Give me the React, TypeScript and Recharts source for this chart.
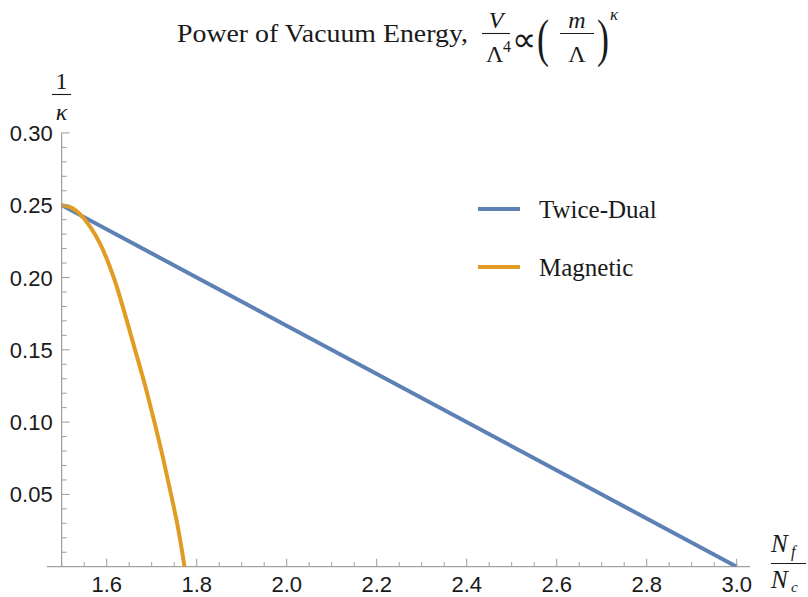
import React from 'react';
import { LineChart, Line, XAxis, YAxis, ReferenceLine, Legend } from 'recharts';

// ---- data ----
const twiceDualX = [1.5, 3.0];
const twiceDualY = [0.25, 0.0];

const magneticX = [1.5, 1.52, 1.533, 1.563, 1.585, 1.604, 1.621, 1.636, 1.663, 1.6856, 1.706, 1.7253, 1.743, 1.7596, 1.773];
const magneticY = [0.25, 0.2485, 0.246, 0.2351, 0.2236, 0.2098, 0.195, 0.1795, 0.15, 0.125, 0.1, 0.075, 0.05, 0.025, 0.0];

const xMajorTicks = [1.6, 1.8, 2.0, 2.2, 2.4, 2.6, 2.8, 3.0];
const xMinorTicks = [1.5, 1.55, 1.65, 1.7, 1.75, 1.85, 1.9, 1.95, 2.05, 2.1, 2.15, 2.25, 2.3, 2.35, 2.45, 2.5, 2.55, 2.65, 2.7, 2.75, 2.85, 2.9, 2.95];
const yMajorTicks = [0.05, 0.1, 0.15, 0.2, 0.25, 0.3];
const yMinorTicks = [0.01, 0.02, 0.03, 0.04, 0.06, 0.07, 0.08, 0.09, 0.11, 0.12, 0.13, 0.14, 0.16, 0.17, 0.18, 0.19, 0.21, 0.22, 0.23, 0.24, 0.26, 0.27, 0.28, 0.29];

const seriesNames = ['Twice-Dual', 'Magnetic'];
const seriesColors = ['#5e81b5', '#e19c24'];

const twiceDualData = twiceDualX.map((x, i) => ({ x, y: twiceDualY[i] }));
const magneticData = magneticX.map((x, i) => ({ x, y: magneticY[i] }));

const allXTicks = [...xMinorTicks, ...xMajorTicks].sort((a, b) => a - b);
const allYTicks = [...yMinorTicks, ...yMajorTicks].sort((a, b) => a - b);

const isMajor = (v: number, list: number[]) => list.some((m) => Math.abs(m - v) < 1e-9);

const AXIS = '#8c8c8c';
const TICK = '#9c9c9c';
const LABEL_FONT = 'Liberation Sans';
const SERIF = 'Liberation Serif';

const XTick = (props: any) => {
  const { x, y, payload } = props;
  const major = isMajor(payload.value, xMajorTicks);
  return (
    <g>
      <line x1={x} x2={x} y1={y} y2={y - (major ? 8 : 4.5)} stroke={TICK} strokeWidth={1} />
      {major && (
        <text x={x} y={y + 25.5} textAnchor="middle" fontSize={22} fontFamily={LABEL_FONT} fill="#1a1a1a">
          {payload.value.toFixed(1)}
        </text>
      )}
    </g>
  );
};

const YTick = (props: any) => {
  const { x, y, payload } = props;
  const major = isMajor(payload.value, yMajorTicks);
  return (
    <g>
      <line x1={x} x2={x + (major ? 8 : 5)} y1={y} y2={y} stroke={TICK} strokeWidth={1} />
      {major && (
        <text x={x - 9} y={y + 8} textAnchor="end" fontSize={22} fontFamily={LABEL_FONT} fill="#1a1a1a">
          {payload.value.toFixed(2)}
        </text>
      )}
    </g>
  );
};

const LegendContent = () => (
  <svg width={240} height={110} style={{ overflow: 'visible' }}>
    {seriesNames.map((name, i) => (
      <g key={name} transform={`translate(0, ${i * 58})`}>
        <line x1={8} x2={50} y1={19} y2={19} stroke={seriesColors[i]} strokeWidth={4} />
        <text x={69} y={28} fontSize={25} fontFamily={SERIF} fill="#1a1a1a">
          {name}
        </text>
      </g>
    ))}
  </svg>
);

export default function App() {
  return (
    <div style={{ position: 'absolute', left: 0, top: 0, width: 808, height: 597, background: '#fff' }}>
      <LineChart
        width={808}
        height={597}
        margin={{ top: 132.9, right: 57.8, bottom: 0.3, left: 1.7 }}
      >
        <XAxis
          type="number"
          dataKey="x"
          domain={[1.5, 3.03]}
          allowDataOverflow
          ticks={allXTicks}
          interval={0}
          height={30}
          tickSize={0}
          tickMargin={0}
          axisLine={false}
          tickLine={false}
          tick={<XTick />}
        />
        <YAxis
          type="number"
          dataKey="y"
          domain={[0, 0.3]}
          allowDataOverflow
          ticks={allYTicks}
          interval={0}
          width={60}
          tickSize={0}
          tickMargin={0}
          axisLine={{ stroke: AXIS, strokeWidth: 1 }}
          tickLine={false}
          tick={<YTick />}
        />
        <ReferenceLine
          segment={[{ x: 1.467, y: 0 }, { x: 3.03, y: 0 }]}
          stroke={AXIS}
          strokeWidth={1}
          ifOverflow="visible"
        />
        <Line
          data={twiceDualData}
          dataKey="y"
          name={seriesNames[0]}
          type="linear"
          stroke={seriesColors[0]}
          strokeWidth={4}
          dot={false}
          isAnimationActive={false}
        />
        <Line
          data={magneticData}
          dataKey="y"
          name={seriesNames[1]}
          type="monotone"
          stroke={seriesColors[1]}
          strokeWidth={4}
          dot={false}
          isAnimationActive={false}
        />
        <Legend
          layout="horizontal"
          verticalAlign="middle"
          align="center"
          content={<LegendContent />}
          wrapperStyle={{ position: 'absolute', left: 470, top: 190, width: 240, height: 110 }}
        />
      </LineChart>
      <svg
        width={808}
        height={597}
        style={{ position: 'absolute', left: 0, top: 0, pointerEvents: 'none' }}
      >
        <g fontFamily={SERIF} fill="#1a1a1a">
          {/* Title */}
          <text x={177} y={42} fontSize={26} textLength={291} lengthAdjust="spacingAndGlyphs">
            Power of Vacuum Energy,
          </text>
          <text x={496} y={28} fontSize={24} fontStyle="italic" textAnchor="middle">V</text>
          <line x1={482} x2={510} y1={33.5} y2={33.5} stroke="#1a1a1a" strokeWidth={1.1} />
          <text x={486} y={62} fontSize={24}>Λ</text>
          <text x={503} y={52} fontSize={16}>4</text>
          <text x={524} y={51} fontSize={34} textAnchor="middle">∝</text>
          <text x={0} y={0} fontSize={40} transform="translate(537,56) scale(0.9,1.3)">(</text>
          <text x={577} y={28} fontSize={24} fontStyle="italic" textAnchor="middle">m</text>
          <line x1={560} x2={594} y1={33.5} y2={33.5} stroke="#1a1a1a" strokeWidth={1.1} />
          <text x={577} y={62} fontSize={24} textAnchor="middle">Λ</text>
          <text x={0} y={0} fontSize={40} transform="translate(597,56) scale(0.9,1.3)">)</text>
          <text x={610} y={20} fontSize={17} fontStyle="italic">κ</text>

          {/* Y axis label 1/κ */}
          <text x={61.5} y={89} fontSize={24} textAnchor="middle">1</text>
          <line x1={52} x2={71} y1={94.5} y2={94.5} stroke="#1a1a1a" strokeWidth={1.1} />
          <text x={61.5} y={120} fontSize={24} fontStyle="italic" textAnchor="middle">κ</text>

          {/* X axis label Nf/Nc */}
          <text x={771} y={552} fontSize={25} fontStyle="italic">N</text>
          <text x={791} y={557} fontSize={16} fontStyle="italic">f</text>
          <line x1={771} x2={806} y1={563.5} y2={563.5} stroke="#1a1a1a" strokeWidth={1.1} />
          <text x={771} y={588} fontSize={25} fontStyle="italic">N</text>
          <text x={791} y={592} fontSize={15} fontStyle="italic">c</text>
        </g>
      </svg>
    </div>
  );
}
